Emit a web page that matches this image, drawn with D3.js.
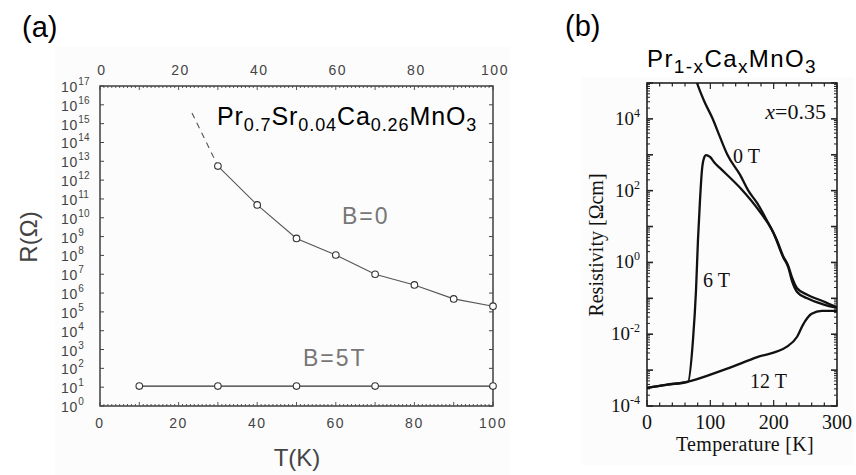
<!DOCTYPE html>
<html><head><meta charset="utf-8">
<script src="https://cdn.jsdelivr.net/npm/d3@7"></script>
<style>body{margin:0;background:#fff}svg{display:block}</style>
</head><body><svg id="c" width="856" height="475"></svg>
<script>
// ---------- Panel (a) data ----------
const aTempsB0 = [30, 40, 50, 60, 70, 80, 90, 100];
const aResB0   = [5.6e12, 4.8e10, 8.0e8, 1.05e8, 1.0e7, 2.7e6, 4.9e5, 2.0e5];
const aTempsExt = [23.4, 30];
const aResExt   = [3.7e15, 5.6e12];
const aTempsB5 = [10, 30, 50, 70, 100];
const aResB5   = [11.5, 11.5, 11.5, 11.5, 11.5];
const aXTicks  = [0, 20, 40, 60, 80, 100];
const aYExps   = d3.range(0, 18);

// ---------- Panel (b) data ----------
const bT0  = [72, 79, 90, 103, 115, 127, 147, 160, 174, 190, 205, 215, 223, 229, 237, 253, 278, 300];
const bR0  = [2.5e5, 1e5, 3.2e4, 1.07e4, 3.2e3, 1e3, 275, 100, 45, 14, 4.2, 1.5, 0.8, 0.38, 0.19, 0.126, 0.083, 0.056];
const bT6  = [0, 30, 64.7, 72.6, 77.4, 80.5, 83.7, 86.8, 90, 93.2, 99.5, 107, 115, 147, 178, 199, 215, 223, 229, 237, 253, 278, 300];
const bR6  = [3.2e-4, 3.9e-4, 4.7e-4, 6.9e-3, 0.17, 4.3, 55, 380, 810, 980, 870, 590, 430, 120, 26, 7.1, 1.4, 0.74, 0.30, 0.15, 0.10, 0.068, 0.054];
const bT12 = [0, 30, 63, 120, 174, 221, 237, 246, 260, 276, 300];
const bR12 = [3.2e-4, 3.9e-4, 4.7e-4, 1.0e-3, 2.3e-3, 4.5e-3, 8.5e-3, 1.8e-2, 3.7e-2, 4.5e-2, 4.5e-2];
const bXTicks = [0, 100, 200, 300];
const bYExps  = [-4, -2, 0, 2, 4];

const svg = d3.select("#c");
const SANS = "Liberation Sans, Arial, Helvetica, sans-serif";
const SERIF = "Liberation Serif, Times New Roman, serif";

// subtle scan backgrounds
svg.append("rect").attr("x",55).attr("y",47).attr("width",455).attr("height",428).attr("fill","#fcfcfc");
svg.append("rect").attr("x",582).attr("y",77).attr("width",272).attr("height",388).attr("fill","#fcfcfc");

// ================= Panel (a) =================
const xA = d3.scaleLinear().domain([0,100]).range([100,493]);
const yA = d3.scaleLog().domain([1,1e17]).range([406,86]);
const gA = svg.append("g");

gA.append("text").attr("x",22).attr("y",37).attr("font-family",SANS).attr("font-size",29).attr("fill","#000").text("(a)");

// frame
gA.append("rect").attr("x",xA(0)).attr("y",yA(1e17)).attr("width",xA(100)-xA(0)).attr("height",yA(1)-yA(1e17))
  .attr("fill","none").attr("stroke","#333").attr("stroke-width",1.4);

// x ticks top & bottom
const aMinor = d3.range(0,101,1);
gA.selectAll(".xtb").data(aMinor).join("line")
  .attr("x1",d=>xA(d)).attr("x2",d=>xA(d)).attr("y1",yA(1)).attr("y2",d=>yA(1)-(d%10===0?4:2))
  .attr("stroke","#444").attr("stroke-width",0.9);
gA.selectAll(".xtt").data(aMinor).join("line")
  .attr("x1",d=>xA(d)).attr("x2",d=>xA(d)).attr("y1",yA(1e17)).attr("y2",d=>yA(1e17)+(d%10===0?4:2))
  .attr("stroke","#444").attr("stroke-width",0.9);
// y ticks left & right
gA.selectAll(".ytl").data(aYExps).join("line")
  .attr("x1",xA(0)).attr("x2",xA(0)+4).attr("y1",d=>yA(Math.pow(10,d))).attr("y2",d=>yA(Math.pow(10,d)))
  .attr("stroke","#444").attr("stroke-width",1);
gA.selectAll(".ytr").data(aYExps).join("line")
  .attr("x1",xA(100)).attr("x2",xA(100)-4).attr("y1",d=>yA(Math.pow(10,d))).attr("y2",d=>yA(Math.pow(10,d)))
  .attr("stroke","#444").attr("stroke-width",1);

// tick labels
gA.selectAll(".xlt").data(aXTicks).join("text")
  .attr("x",d=>xA(d)+2).attr("y",75).attr("text-anchor","middle")
  .attr("font-family",SANS).attr("font-size",14).attr("letter-spacing",1.5).attr("fill","#444").text(d=>d);
gA.selectAll(".xlb").data(aXTicks).join("text")
  .attr("x",d=>xA(d)).attr("y",428).attr("text-anchor","middle")
  .attr("font-family",SANS).attr("font-size",14).attr("letter-spacing",1.5).attr("fill","#444").text(d=>d);
const yl = gA.selectAll(".yl").data(aYExps).join("text")
  .attr("x",61).attr("y",d=>yA(Math.pow(10,d))+6)
  .attr("font-family",SANS).attr("font-size",14).attr("letter-spacing",0.8).attr("fill","#444");
yl.append("tspan").text("10");
yl.append("tspan").attr("dy",-7).attr("font-size",10).attr("letter-spacing",0.3).text(d=>d);

// axis titles
gA.append("text").attr("transform","translate(37,237) rotate(-90)").attr("text-anchor","middle")
  .attr("font-family",SANS).attr("font-size",24).attr("fill","#444").text("R(Ω)");
gA.append("text").attr("x",297).attr("y",466).attr("text-anchor","middle")
  .attr("font-family",SANS).attr("font-size",24).attr("fill","#444").text("T(K)");

// formula label
const fa = gA.append("text").attr("x",217).attr("y",125).attr("font-family",SANS).attr("font-size",25)
  .attr("letter-spacing",0.9).attr("fill","#000");
[["Pr",0],["0.7",1],["Sr",0],["0.04",1],["Ca",0],["0.26",1],["MnO",0],["3",1]].forEach(([t,s],i,arr)=>{
  const prev = i>0 ? arr[i-1][1] : 0;
  const dy = s===1 ? (prev===1?0:6) : (prev===1?-6:0);
  fa.append("tspan").attr("dy",dy).attr("font-size",s?18:25).text(t);
});

// B labels
gA.append("text").attr("x",342).attr("y",224).attr("font-family",SANS).attr("font-size",23).attr("letter-spacing",2).attr("fill","#777").text("B=0");
gA.append("text").attr("x",303).attr("y",366).attr("font-family",SANS).attr("font-size",23).attr("letter-spacing",2).attr("fill","#777").text("B=5T");

// lines
const lineA = d3.line().x(d=>xA(d[0])).y(d=>yA(d[1]));
gA.append("path").datum(aTempsExt.map((t,i)=>[t,aResExt[i]])).attr("d",lineA)
  .attr("fill","none").attr("stroke","#555").attr("stroke-width",1.1).attr("stroke-dasharray","6,5");
gA.append("path").datum(aTempsB0.map((t,i)=>[t,aResB0[i]])).attr("d",lineA)
  .attr("fill","none").attr("stroke","#555").attr("stroke-width",1.1);
gA.append("path").datum(aTempsB5.map((t,i)=>[t,aResB5[i]])).attr("d",lineA)
  .attr("fill","none").attr("stroke","#333").attr("stroke-width",1.2);
gA.selectAll(".p0").data(aTempsB0.map((t,i)=>[t,aResB0[i]])).join("circle")
  .attr("cx",d=>xA(d[0])).attr("cy",d=>yA(d[1])).attr("r",3.3)
  .attr("fill","#fff").attr("stroke","#333").attr("stroke-width",1.1);
gA.selectAll(".p5").data(aTempsB5.map((t,i)=>[t,aResB5[i]])).join("circle")
  .attr("cx",d=>xA(d[0])).attr("cy",d=>yA(d[1])).attr("r",3.3)
  .attr("fill","#fff").attr("stroke","#333").attr("stroke-width",1.1);

// ================= Panel (b) =================
const xB = d3.scaleLinear().domain([0,300]).range([647,837]);
const yB = d3.scaleLog().domain([1e-4,1e5]).range([406,83]);
const gB = svg.append("g");

gB.append("text").attr("x",565).attr("y",36).attr("font-family",SANS).attr("font-size",29).attr("fill","#000").text("(b)");

const tb = gB.append("text").attr("x",647).attr("y",67).attr("font-family",SANS).attr("font-size",24)
  .attr("letter-spacing",1.4).attr("fill","#000");
[["Pr",0],["1-x",1],["Ca",0],["x",1],["MnO",0],["3",1]].forEach(([t,s],i,arr)=>{
  const prev = i>0 ? arr[i-1][1] : 0;
  const dy = s===1 ? (prev===1?0:6) : (prev===1?-6:0);
  tb.append("tspan").attr("dy",dy).attr("font-size",s?19:24).text(t);
});

gB.append("defs").append("clipPath").attr("id","clipB").append("rect")
  .attr("x",xB(0)).attr("y",yB(1e5)).attr("width",xB(300)-xB(0)).attr("height",yB(1e-4)-yB(1e5));

// ticks
const bMinorX = d3.range(0,301,20);
gB.selectAll(".bxb").data(bMinorX).join("line")
  .attr("x1",d=>xB(d)).attr("x2",d=>xB(d)).attr("y1",yB(1e-4)).attr("y2",d=>yB(1e-4)-(d%100===0?6:3.5))
  .attr("stroke","#222").attr("stroke-width",1.2);
gB.selectAll(".bxt").data(bMinorX).join("line")
  .attr("x1",d=>xB(d)).attr("x2",d=>xB(d)).attr("y1",yB(1e5)).attr("y2",d=>yB(1e5)+(d%100===0?6:3.5))
  .attr("stroke","#222").attr("stroke-width",1.2);
const bYTicks = [];
for (let e=-4; e<5; e++) for (let m=1; m<10; m++) bYTicks.push({v:m*Math.pow(10,e), major:m===1});
bYTicks.push({v:1e5, major:true});
gB.selectAll(".byl").data(bYTicks).join("line")
  .attr("x1",xB(0)).attr("x2",d=>xB(0)+(d.major?6:3)).attr("y1",d=>yB(d.v)).attr("y2",d=>yB(d.v))
  .attr("stroke","#222").attr("stroke-width",d=>d.major?1.6:1);
gB.selectAll(".byr").data(bYTicks).join("line")
  .attr("x1",xB(300)).attr("x2",d=>xB(300)-(d.major?6:3)).attr("y1",d=>yB(d.v)).attr("y2",d=>yB(d.v))
  .attr("stroke","#222").attr("stroke-width",d=>d.major?1.6:1);

gB.append("rect").attr("x",xB(0)).attr("y",yB(1e5)).attr("width",xB(300)-xB(0)).attr("height",yB(1e-4)-yB(1e5))
  .attr("fill","none").attr("stroke","#222").attr("stroke-width",1.6);

// tick labels
gB.selectAll(".bxlab").data(bXTicks).join("text")
  .attr("x",d=>xB(d)).attr("y",429).attr("text-anchor","middle")
  .attr("font-family",SERIF).attr("font-size",20).attr("fill","#111").text(d=>d);
const byl = gB.selectAll(".bylab").data(bYExps).join("text")
  .attr("x",640).attr("y",d=>yB(Math.pow(10,d))+6).attr("text-anchor","end")
  .attr("font-family",SERIF).attr("font-size",19).attr("fill","#111");
byl.append("tspan").text("10");
byl.append("tspan").attr("dy",-8).attr("font-size",12).text(d=>d<0?"-"+Math.abs(d):d);

gB.append("text").attr("x",745).attr("y",451).attr("text-anchor","middle")
  .attr("font-family",SERIF).attr("font-size",20).attr("letter-spacing",0.3).attr("fill","#111").text("Temperature [K]");
gB.append("text").attr("transform","translate(603,245) rotate(-90)").attr("text-anchor","middle")
  .attr("font-family",SERIF).attr("font-size",20).attr("fill","#111").text("Resistivity [Ωcm]");

// curves
const lineB = d3.line().x(d=>xB(d[0])).y(d=>yB(d[1])).curve(d3.curveMonotoneX);
const cB = gB.append("g").attr("clip-path","url(#clipB)");
[[bT0,bR0],[bT6,bR6],[bT12,bR12]].forEach(([T,R])=>{
  cB.append("path").datum(T.map((t,i)=>[t,R[i]])).attr("d",lineB)
    .attr("fill","none").attr("stroke","#111").attr("stroke-width",2.3).attr("stroke-linejoin","round");
});

// annotations
const ann = gB.append("g").attr("font-family",SERIF).attr("font-size",20).attr("fill","#111");
const xl = ann.append("text").attr("x",826).attr("y",119).attr("text-anchor","end").attr("font-size",22);
xl.append("tspan").attr("font-style","italic").text("x");
xl.append("tspan").text("=0.35");
ann.append("text").attr("x",733).attr("y",163).text("0 T");
ann.append("text").attr("x",703).attr("y",287).text("6 T");
ann.append("text").attr("x",750).attr("y",388).text("12 T");
</script></body></html>
